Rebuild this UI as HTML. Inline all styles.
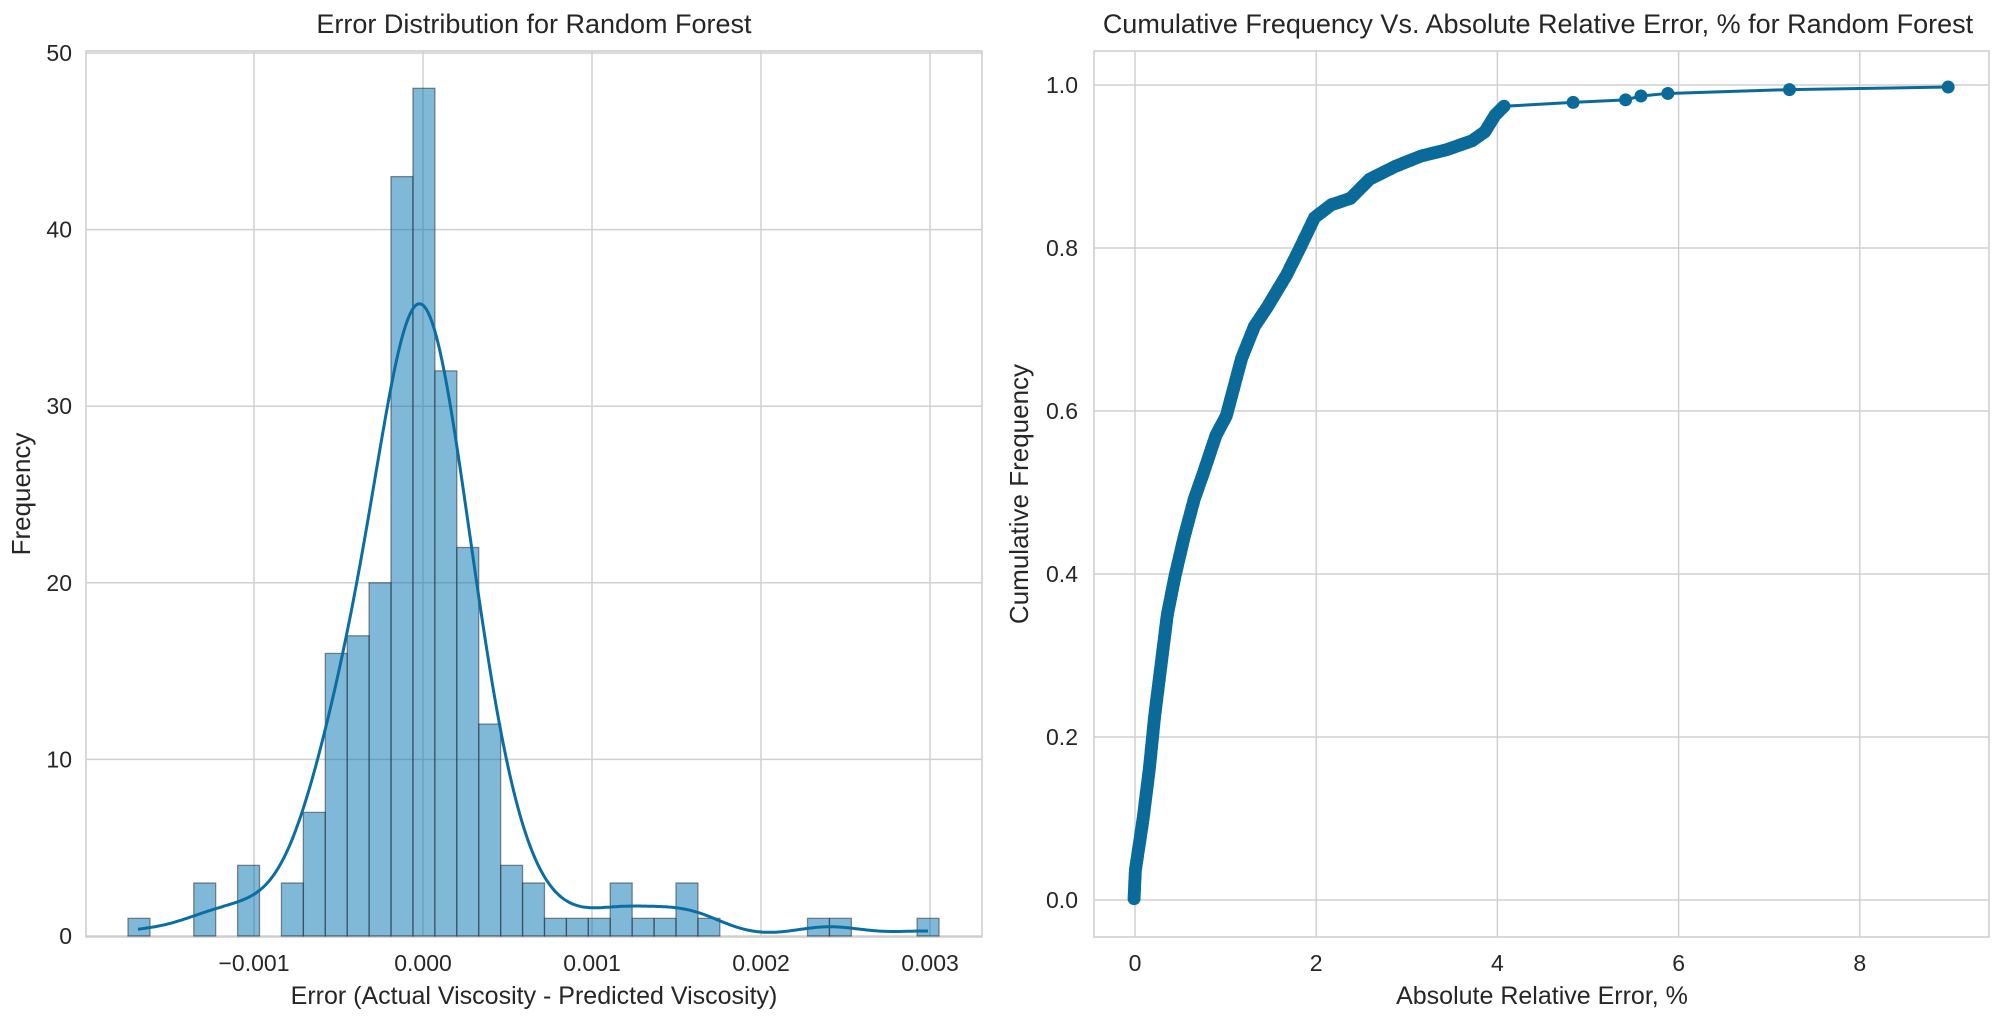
<!DOCTYPE html>
<html><head><meta charset="utf-8"><style>
html,body{margin:0;padding:0;background:#fff;}
svg{display:block;font-family:"Liberation Sans",sans-serif;}
</style></head><body>
<svg id="s" width="2007" height="1023" viewBox="0 0 2007 1023" xmlns="http://www.w3.org/2000/svg"></svg>
<script>
const S=document.getElementById('s');let h='';
const tc='#262626';
const L0=86,L1=982,T=51,B=937;
const ly=v=>936-v*17.66, lx=v=>423+v*169000;
h+=`<rect x="${L0}" y="${T}" width="${L1-L0}" height="${B-T}" fill="#fff" stroke="#cccccc" stroke-width="1.5"/>`;
for(let v=0;v<=50;v+=10){const y=ly(v);h+=`<line x1="${L0}" x2="${L1}" y1="${y}" y2="${y}" stroke="#d0d0d0" stroke-width="1.5"/><text x="72" y="${y+8}" font-size="23" text-anchor="end" fill="${tc}">${v}</text>`;}
[-0.001,0,0.001,0.002,0.003].forEach(v=>{const x=lx(v);const lab=v<0?'\u22120.001':v.toFixed(3);h+=`<line x1="${x}" x2="${x}" y1="${T}" y2="${B}" stroke="#d0d0d0" stroke-width="1.5"/><text x="${x}" y="971" font-size="23" text-anchor="middle" fill="${tc}">${lab}</text>`;});
const counts=[1,0,0,3,0,4,0,3,7,16,17,20,43,48,32,22,12,4,3,1,1,1,3,1,1,3,1,0,0,0,0,1,1,0,0,0,1];
const bw=21.92,b0=128;
counts.forEach((c,i)=>{if(!c)return;const x=b0+i*bw;h+=`<rect x="${x}" y="${ly(c)}" width="${bw}" height="${936-ly(c)}" fill="rgba(1,115,178,0.5)" stroke="rgba(40,50,60,0.55)" stroke-width="1.3"/>`;});
let sig=33,pts=[];
let raw=[];for(let x=b0+10;x<=b0+37*bw-10;x+=2){let s=0;counts.forEach((c,i)=>{const cx=b0+(i+0.5)*bw;s+=c*Math.exp(-0.5*((x-cx)/sig)**2);});raw.push([x,s]);}
let mx=0;raw.forEach(p=>mx=Math.max(mx,p[1]));
raw.forEach(p=>pts.push(p[0].toFixed(1)+','+ly(p[1]*35.8/mx).toFixed(1)));
h+=`<polyline points="${pts.join(' ')}" fill="none" stroke="#0a6ea3" stroke-width="3"/>`;
h+=`<text x="534" y="33" font-size="27" text-anchor="middle" fill="${tc}">Error Distribution for Random Forest</text>`;
h+=`<text x="534" y="1004" font-size="25" text-anchor="middle" fill="${tc}">Error (Actual Viscosity - Predicted Viscosity)</text>`;
h+=`<text transform="translate(30,494) rotate(-90)" font-size="26" text-anchor="middle" fill="${tc}">Frequency</text>`;
const R0=1094,R1=1989;
const ry=v=>900-v*815, rx=v=>1135+v*90.6;
h+=`<rect x="${R0}" y="${T}" width="${R1-R0}" height="${B-T}" fill="#fff" stroke="#cccccc" stroke-width="1.5"/>`;
for(let i=0;i<=5;i++){const v=i*0.2,y=ry(v);h+=`<line x1="${R0}" x2="${R1}" y1="${y}" y2="${y}" stroke="#d0d0d0" stroke-width="1.5"/><text x="1078" y="${y+8}" font-size="23" text-anchor="end" fill="${tc}">${v.toFixed(1)}</text>`;}
[0,2,4,6,8].forEach(v=>{const x=rx(v);h+=`<line x1="${x}" x2="${x}" y1="${T}" y2="${B}" stroke="#d0d0d0" stroke-width="1.5"/><text x="${x}" y="971" font-size="23" text-anchor="middle" fill="${tc}">${v}</text>`;});
const P=[[886,702],[887,680],[893,640],[898,600],[902,560],[907,520],[912,480],[918,450],[925,420],[933,390],[940,370],[950,340],[958,325],[962,310],[970,280],[980,255],[990,240],[1005,215],[1015,195],[1027,170],[1040,160],[1055,155],[1070,140],[1090,130],[1110,122],[1130,117],[1150,110],[1160,103],[1168,90],[1175,83]].map(p=>[p[0]*1.28,p[1]*1.28]);
const Q=[[1229,80],[1270,78],[1282,75],[1303,73],[1398,70],[1522,68]].map(p=>[p[0]*1.28,p[1]*1.28]);
const all=P.concat(Q);
h+=`<polyline points="${all.map(p=>p.join(',')).join(' ')}" fill="none" stroke="#0a6b9b" stroke-width="3"/>`;
let mk='';
for(let i=0;i<P.length-1;i++){const a=P[i],b=P[i+1];const d=Math.hypot(b[0]-a[0],b[1]-a[1]);const k=Math.max(1,Math.ceil(d/3));for(let j=0;j<k;j++){const t=j/k;mk+=`<circle cx="${(a[0]+(b[0]-a[0])*t).toFixed(1)}" cy="${(a[1]+(b[1]-a[1])*t).toFixed(1)}" r="6.5"/>`;}}
all.slice(P.length-1).forEach(p=>mk+=`<circle cx="${p[0]}" cy="${p[1]}" r="6.5"/>`);
h+=`<g fill="#0a6b9b">${mk}</g>`;
h+=`<text x="1538" y="33" font-size="27" text-anchor="middle" fill="${tc}">Cumulative Frequency Vs. Absolute Relative Error, % for Random Forest</text>`;
h+=`<text x="1542" y="1004" font-size="25" text-anchor="middle" fill="${tc}">Absolute Relative Error, %</text>`;
h+=`<text transform="translate(1028,494) rotate(-90)" font-size="26" text-anchor="middle" fill="${tc}">Cumulative Frequency</text>`;
S.innerHTML=h;
</script>
</body></html>
